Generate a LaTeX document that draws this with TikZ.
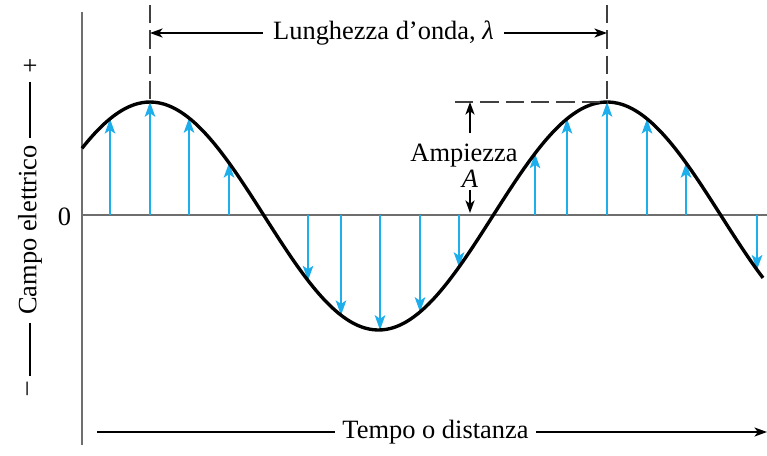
\documentclass[tikz,border=0pt]{standalone}
\usepackage{fontspec}
\setmainfont{Liberation Serif}
\usetikzlibrary{arrows.meta,positioning,calc}

\definecolor{fieldblue}{RGB}{30,174,236}
\definecolor{axisgray}{RGB}{110,110,110}

\begin{document}
\begin{tikzpicture}[x=0.025cm, y=-0.025cm, >=Stealth, thick,
  lbl/.style={font=\fontsize{18.8}{22}\selectfont, inner sep=0pt},
  axis/.style={draw=axisgray, line width=1.3pt},
  guide/.style={draw=black!75, line width=1.3pt, dash pattern=on 13pt off 5pt},
  field/.style={->, draw=fieldblue, line width=1.3pt, >={Stealth[length=10.5pt,width=7.5pt,inset=2.5pt]}},
  dim/.style={->, line width=0.9pt, >={Stealth[length=9pt,width=6.5pt,inset=2.5pt]}}]
\useasboundingbox (0,0) rectangle (767,455);

% axes
\coordinate (O) at (82,215);
\draw[axis] (82,12) -- (82,445);
\draw[axis] (O) -- (767,215);
\node[lbl] (zero) at (64.5,216.5) {0};

% field vectors and wave
\foreach \xa in {110,150,189,229,308,341,380,420,459,535,567,607,647,686,757}
  \draw[field] (\xa,215) -- (\xa,{216-114*cos((\xa-150)/457*360)});
\draw[line width=2.4pt] plot[domain=82:763, samples=160, smooth] (\x,{216-114*cos((\x-150)/457*360)});

% wavelength
\coordinate (peakA) at (150,105);
\coordinate (peakB) at (607,102);
\draw[guide] (150,5) -- (peakA);
\draw[guide] (607,5) -- (peakB);
\node[lbl, inner xsep=7pt] (wl) at (383.5,33) {Lunghezza d’onda, \textit{λ}};
\draw[dim] (wl.west) -- (wl.west -| peakA);
\draw[dim] (wl.east) -- (wl.east -| peakB);

% amplitude
\draw[guide] (455,102) -- (peakB);
\node[lbl] (amp) at (464,156) {Ampiezza};
\node[lbl] (ampA) at (470,178.5) {\textit{A}};
\coordinate (a1) at (470,133);
\coordinate (a2) at (470,190);
\draw[dim] (a1) -- (a1 |- peakB);
\draw[dim] (a2) -- ($(a2 |- O)+(0,-2)$);

% axis labels
\node[lbl, rotate=90] (ylab) at (30,230) {Campo elettrico};
\node[lbl] (plus) at (30,67) {+};
\node[lbl, rotate=90] (minus) at (30,389) {–};
\draw[line width=0.9pt] (30,82) -- (30,138);
\draw[line width=0.9pt] (30,323) -- (30,376);

\node[lbl, inner xsep=5pt] (tlab) at (435.5,432) {Tempo o distanza};
\coordinate (tstart) at (97,432);
\coordinate (tend) at (767,432);
\draw[line width=0.9pt] (tstart) -- (tlab.west);
\draw[dim] (tlab.east) -- (tend);
\end{tikzpicture}
\end{document}
